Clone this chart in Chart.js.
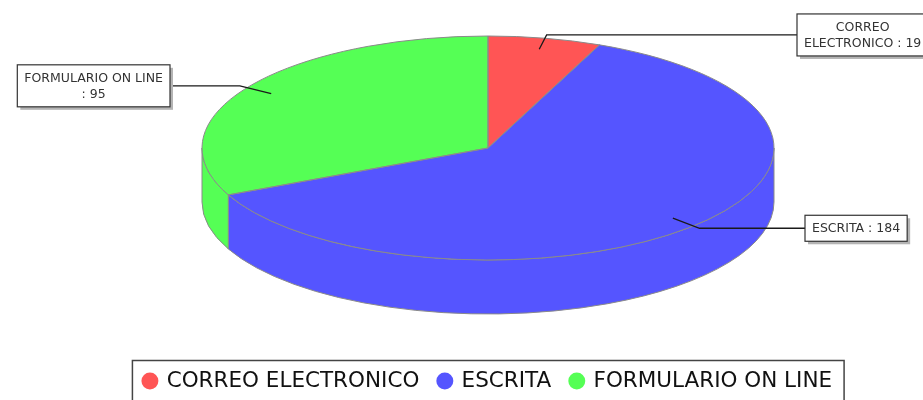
<!DOCTYPE html>
<html>
<head>
<meta charset="utf-8">
<script src="https://cdn.jsdelivr.net/npm/chart.js@4.4.1/dist/chart.umd.min.js"></script>
<style>
  html, body { margin: 0; padding: 0; background: #fff; overflow: hidden; }
  #wrap { width: 923px; height: 402px; position: relative; }
</style>
</head>
<body>
<div id="wrap"><canvas id="c"></canvas></div>
<script>
const categories = ['CORREO ELECTRONICO', 'ESCRITA', 'FORMULARIO ON LINE'];
const values = [19, 184, 95];
const colors = ['#ff5555', '#5555ff', '#55ff55'];

// geometry of the 3D rendering (layout, not data)
const GEO = { cx: 488, cy: 148, rx: 286, ry: 112, depth: 54 };
const LINK_X = [797, 805, 170];   // where each callout box is anchored
const LABEL_FONT = '12.5px "DejaVu Sans"';

function wrapText(ctx, text, maxW) {
  const words = text.split(' ');
  const lines = [];
  let cur = '';
  for (const w of words) {
    const t = cur ? cur + ' ' + w : w;
    if (cur && ctx.measureText(t).width > maxW) { lines.push(cur); cur = w; }
    else cur = t;
  }
  if (cur) lines.push(cur);
  return lines;
}

const pie3d = {
  id: 'pie3d',
  beforeDatasetsDraw(chart) {
    const ctx = chart.ctx;
    const meta = chart.getDatasetMeta(0);
    const {cx, cy, rx, ry, depth} = GEO;
    // side walls (front half only)
    meta.data.forEach((el) => {
      const a1 = Math.max(el.startAngle, 0);
      const a2 = Math.min(el.endAngle, Math.PI);
      if (a1 >= a2) return;
      ctx.save();
      ctx.beginPath();
      ctx.ellipse(cx, cy, rx, ry, 0, a1, a2, false);
      ctx.lineTo(cx + rx * Math.cos(a2), cy + depth + ry * Math.sin(a2));
      ctx.ellipse(cx, cy + depth, rx, ry, 0, a2, a1, true);
      ctx.closePath();
      ctx.fillStyle = el.options.backgroundColor;
      ctx.fill();
      ctx.strokeStyle = '#8a8a8a';
      ctx.lineWidth = 1;
      ctx.stroke();
      ctx.restore();
    });
    // flatten the library's pie into the top ellipse
    const a0 = meta.data[0];
    const kx = rx / a0.outerRadius, ky = ry / a0.outerRadius;
    ctx.save();
    ctx.translate(cx - kx * a0.x, cy - ky * a0.y);
    ctx.scale(kx, ky);
  },
  afterDatasetsDraw(chart) {
    const ctx = chart.ctx;
    ctx.restore();
    const meta = chart.getDatasetMeta(0);
    const {cx, cy, rx, ry} = GEO;
    // outlines of top slices
    meta.data.forEach((el) => {
      ctx.save();
      ctx.beginPath();
      ctx.moveTo(cx, cy);
      ctx.ellipse(cx, cy, rx, ry, 0, el.startAngle, el.endAngle, false);
      ctx.closePath();
      ctx.strokeStyle = '#8a8a8a';
      ctx.lineWidth = 1;
      ctx.stroke();
      ctx.restore();
    });
    // callouts
    const labels = chart.data.labels;
    const data = chart.data.datasets[0].data;
    meta.data.forEach((el, i) => {
      const mid = (el.startAngle + el.endAngle) / 2;
      const c = Math.cos(mid), s = Math.sin(mid);
      const p0 = [cx + 0.9 * rx * c, cy + 0.9 * ry * s];
      const p1 = [cx + 1.03 * rx * c, cy + 1.03 * ry * s];
      const right = c > 0;
      const bx = LINK_X[i];
      ctx.save();
      ctx.font = LABEL_FONT;
      const lines = wrapText(ctx, labels[i] + ' : ' + data[i], 142);
      const tw = Math.max(...lines.map(l => ctx.measureText(l).width));
      const lh = 16, padX = 7, padY = 5;
      const bw = tw + padX * 2, bh = lines.length * lh + padY * 2;
      const left = right ? bx : bx - bw;
      const top = p1[1] - bh / 2;
      // leader
      ctx.beginPath();
      ctx.moveTo(p0[0], p0[1]);
      ctx.lineTo(p1[0], p1[1]);
      ctx.lineTo(bx, p1[1]);
      ctx.strokeStyle = '#1a1a1a';
      ctx.lineWidth = 1.3;
      ctx.stroke();
      // box with shadow
      ctx.fillStyle = '#b4b4b4';
      ctx.fillRect(left + 3, top + 3, bw, bh);
      ctx.fillStyle = '#fff';
      ctx.fillRect(left, top, bw, bh);
      ctx.strokeStyle = '#333';
      ctx.lineWidth = 1.2;
      ctx.strokeRect(left, top, bw, bh);
      ctx.fillStyle = '#333';
      ctx.textAlign = 'center';
      ctx.textBaseline = 'middle';
      lines.forEach((l, j) => {
        ctx.fillText(l, left + bw / 2, top + padY + lh * j + lh / 2 + 0.5);
      });
      ctx.restore();
    });
  },
  afterDraw(chart) {
    const lg = chart.legend;
    if (!lg || !lg.legendHitBoxes || !lg.legendHitBoxes.length) return;
    const hb = lg.legendHitBoxes;
    const l = Math.min(...hb.map(h => h.left));
    const r = Math.max(...hb.map(h => h.left + h.width));
    const yc = hb[0].top + hb[0].height / 2;
    const ctx = chart.ctx;
    ctx.save();
    ctx.strokeStyle = '#444';
    ctx.lineWidth = 1.5;
    ctx.strokeRect(l - 11.5, yc - 20.5, (r + 12) - (l - 11.5), 41);
    ctx.restore();
  }
};

new Chart(document.getElementById('c'), {
  type: 'pie',
  data: {
    labels: categories,
    datasets: [{
      data: values,
      backgroundColor: colors,
      borderWidth: 0,
      clip: false
    }]
  },
  options: {
    responsive: true,
    maintainAspectRatio: false,
    animation: false,
    events: [],
    layout: { padding: { left: 53, right: 0, top: 0, bottom: 0.25 } },
    plugins: {
      tooltip: { enabled: false },
      legend: {
        position: 'bottom',
        labels: {
          usePointStyle: true,
          pointStyle: 'circle',
          boxWidth: 12,
          boxHeight: 12,
          padding: 19.5,
          color: '#111',
          font: { family: '"DejaVu Sans"', size: 21.5 }
        }
      }
    }
  },
  plugins: [pie3d]
});
</script>
</body>
</html>
